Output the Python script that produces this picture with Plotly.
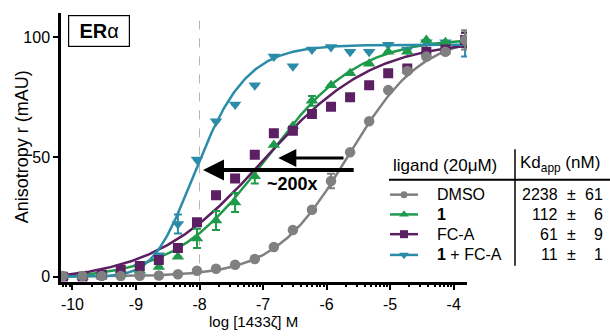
import numpy as np
import plotly.graph_objects as go

W, H = 610, 336

# ---------------- data ----------------
log_conc = [-10.15, -9.84, -9.54, -9.24, -8.94, -8.64, -8.34, -8.04, -7.74, -7.44, -7.13,
            -6.83, -6.53, -6.23, -5.93, -5.63, -5.33, -5.03, -4.73, -4.43, -4.13, -3.82]

dmso = [0.3, 0.3, 0.3, 0.3, 0.4, 0.5, 1.0, 2.5, 3.3, 5.0, 7.4,
        12.4, 19.5, 28, 40, 52, 65, 78, 86, 92, 94, 99]
cmpd1 = [0, 0, 0.5, 1, 2.5, 4, 8.3, 16, 23.5, 31, 42,
         55, 63, 73.5, 80, 85, 89, 94, 94, 99, 98, 99]
fca = [0, 0, 0.8, 2.9, 4.5, 7, 12, 22.7, 34, 41, 51,
       60, 61, 68, 71, 75, 80, 85, 87, 94, 95, 99]
combo = [0, 0, 0.3, 1, 4, 9, 22, 49, 65, 72, 80,
         92, 88, 95, 96, 94, 94, 97, 95, 98, 98, 97]

err_dmso = [None]*14 + [3] + [None]*6 + [4]
err_cmpd1 = [None]*7 + [4, 4, 4, 3, None, None, 2] + [None]*7 + [3]
err_fca = [None]*21 + [3]
err_combo = [None]*6 + [4] + [None]*14 + [5]

series_names = ["DMSO", "1", "FC-A", "1 + FC-A"]
series_labels = ["DMSO", "<b>1</b>", "FC-A", "<b>1</b> + FC-A"]
kd_values = ["2238", "112", "61", "11"]
kd_errors = ["61", "6", "9", "1"]

# asymmetric logistic fit parameters (log midpoint, slope, asymmetry, bottom, top)
fit_logmid = [-5.66, -6.95, -7.00, -8.58]
fit_hill = [0.75, 0.60, 0.50, 0.95]
fit_asym = [1.0, 1.0, 1.0, 2.8]
fit_bottom = [0, -1, -2, 0]
fit_top = [101, 100, 99, 97]

x_ticks = [-10, -9, -8, -7, -6, -5, -4]
y_ticks = [0, 50, 100]

colors = ["#808080", "#1f9a4b", "#5b1f62", "#2a8ca8"]
symbols = ["circle", "triangle-up", "square", "triangle-down"]
msizes = [10.5, 11, 10, 11]
leg_msizes = [7, 8.5, 8, 8.5]

ys = [dmso, cmpd1, fca, combo]
errs = [err_dmso, err_cmpd1, err_fca, err_combo]

FONT = "Liberation Sans, Arial, Helvetica, sans-serif"


def px(x):
    return x / W


def py(y):
    return 1 - y / H


fig = go.Figure()

# fitted curves
xf = np.linspace(min(log_conc), max(log_conc), 300)
for i in range(4):
    frac = (1 + 10 ** (fit_hill[i] * (fit_logmid[i] - xf))) ** (-fit_asym[i])
    yf = fit_bottom[i] + (fit_top[i] - fit_bottom[i]) * frac
    fig.add_trace(go.Scatter(x=xf, y=yf, mode="lines", line=dict(color=colors[i], width=2.5),
                             showlegend=False, hoverinfo="skip"))

# data markers (draw order: teal, green, purple, gray)
for i in [3, 1, 2, 0]:
    fig.add_trace(go.Scatter(
        x=log_conc, y=ys[i], mode="markers", name=series_names[i],
        marker=dict(symbol=symbols[i], size=msizes[i], color=colors[i], line=dict(width=0)),
        error_y=dict(type="data", array=errs[i], visible=True, color=colors[i], thickness=2, width=4),
        showlegend=False))

# legend-table markers on a full-figure overlay axis (pixel coordinates)
row_y = [197, 217, 237, 258]
for i in range(4):
    fig.add_trace(go.Scatter(
        x=[390, 404, 418], y=[row_y[i]] * 3, xaxis="x2", yaxis="y2", mode="lines",
        line=dict(color=colors[i], width=2.5), showlegend=False, hoverinfo="skip"))
    fig.add_trace(go.Scatter(
        x=[404], y=[row_y[i]], xaxis="x2", yaxis="y2", mode="markers",
        marker=dict(symbol=symbols[i], size=leg_msizes[i], color=colors[i]),
        showlegend=False, hoverinfo="skip"))

x_minor = [d + np.log10(k) for d in range(-11, -3) for k in range(2, 10)]
x_minor = [v for v in x_minor if -10.18 < v < -3.79]

fig.update_layout(
    width=W, height=H, margin=dict(l=0, r=0, t=0, b=0),
    paper_bgcolor="white", plot_bgcolor="rgba(0,0,0,0)",
    font=dict(family=FONT, size=15, color="black"),
    xaxis=dict(domain=[61 / W, 467 / W], range=[-10.18, -3.79], anchor="y",
               tickmode="array", tickvals=x_ticks, ticktext=[str(v) for v in x_ticks],
               ticks="outside", ticklen=6, tickwidth=2, tickcolor="black",
               showline=True, linewidth=2.5, linecolor="black", showgrid=False, zeroline=False,
               tickfont=dict(size=16),
               minor=dict(tickmode="array", tickvals=x_minor, ticks="outside", ticklen=3,
                          tickwidth=1.5, tickcolor="black", showgrid=False)),
    yaxis=dict(domain=[py(285), py(13)], range=[-2.07, 110.3], anchor="x",
               tickmode="array", tickvals=y_ticks, ticks="outside", ticklen=5, tickwidth=2,
               tickcolor="black", showline=True, linewidth=2.5, linecolor="black",
               showgrid=False, zeroline=False, tickfont=dict(size=16)),
    xaxis2=dict(domain=[0, 1], range=[0, W], anchor="y2", visible=False, fixedrange=True),
    yaxis2=dict(domain=[0, 1], range=[H, 0], anchor="x2", visible=False, fixedrange=True),
)

shapes = [
    dict(type="line", xref="x", yref="y", x0=-8, x1=-8, y0=-2, y1=107,
         line=dict(color="#b5b5b5", width=1, dash="dash"), layer="below"),
    dict(type="line", xref="paper", yref="paper", x0=px(515), x1=px(515), y0=py(151), y1=py(269),
         line=dict(color="black", width=1.5)),
    dict(type="line", xref="paper", yref="paper", x0=px(389), x1=px(610), y0=py(182), y1=py(182),
         line=dict(color="black", width=2)),
]
fig.update_layout(shapes=shapes)

ann = []
# axis titles
ann.append(dict(xref="paper", yref="paper", x=px(253), y=py(325), text="log [1433ζ] M",
                showarrow=False, font=dict(size=15), xanchor="center", yanchor="middle"))
ann.append(dict(xref="paper", yref="paper", x=px(22), y=py(149), text="Anisotropy r (mAU)",
                showarrow=False, font=dict(size=18), textangle=-90, xanchor="center", yanchor="middle"))
# ERα box
ann.append(dict(xref="paper", yref="paper", x=px(99), y=py(31), text="<b>ER</b>α",
                showarrow=False, font=dict(size=20), xanchor="center", yanchor="middle",
                bordercolor="black", borderwidth=1.2, borderpad=4, width=52, bgcolor="white"))
# arrows
ann.append(dict(xref="x", yref="y", axref="x", ayref="y", x=-6.76, y=49.6, ax=-5.71, ay=49.6,
                text="", showarrow=True, arrowhead=2, arrowsize=1.2, arrowwidth=3, arrowcolor="black"))
ann.append(dict(xref="x", yref="y", axref="x", ayref="y", x=-7.945, y=44.6, ax=-5.55, ay=44.6,
                text="", showarrow=True, arrowhead=2, arrowsize=1.05, arrowwidth=4, arrowcolor="black"))
ann.append(dict(xref="x", yref="y", x=-6.54, y=38.8, text="<b>~200x</b>", showarrow=False,
                font=dict(size=18), xanchor="center", yanchor="middle"))
# table header
ann.append(dict(xref="paper", yref="paper", x=px(391), y=py(167), text="ligand (20μM)",
                showarrow=False, font=dict(size=17), xanchor="left", yanchor="middle"))
ann.append(dict(xref="paper", yref="paper", x=px(518), y=py(166), text="Kd<sub>app</sub> (nM)",
                showarrow=False, font=dict(size=17), xanchor="left", yanchor="middle"))
for i in range(4):
    ann.append(dict(xref="paper", yref="paper", x=px(435), y=py(row_y[i]), text=series_labels[i],
                    showarrow=False, font=dict(size=16), xanchor="left", yanchor="middle"))
    ann.append(dict(xref="paper", yref="paper", x=px(560), y=py(row_y[i]), text=kd_values[i],
                    showarrow=False, font=dict(size=16), xanchor="right", yanchor="middle"))
    ann.append(dict(xref="paper", yref="paper", x=px(571), y=py(row_y[i]), text="±",
                    showarrow=False, font=dict(size=16), xanchor="center", yanchor="middle"))
    ann.append(dict(xref="paper", yref="paper", x=px(605), y=py(row_y[i]), text=kd_errors[i],
                    showarrow=False, font=dict(size=16), xanchor="right", yanchor="middle"))
fig.update_layout(annotations=ann)

fig.write_html("out.html")
